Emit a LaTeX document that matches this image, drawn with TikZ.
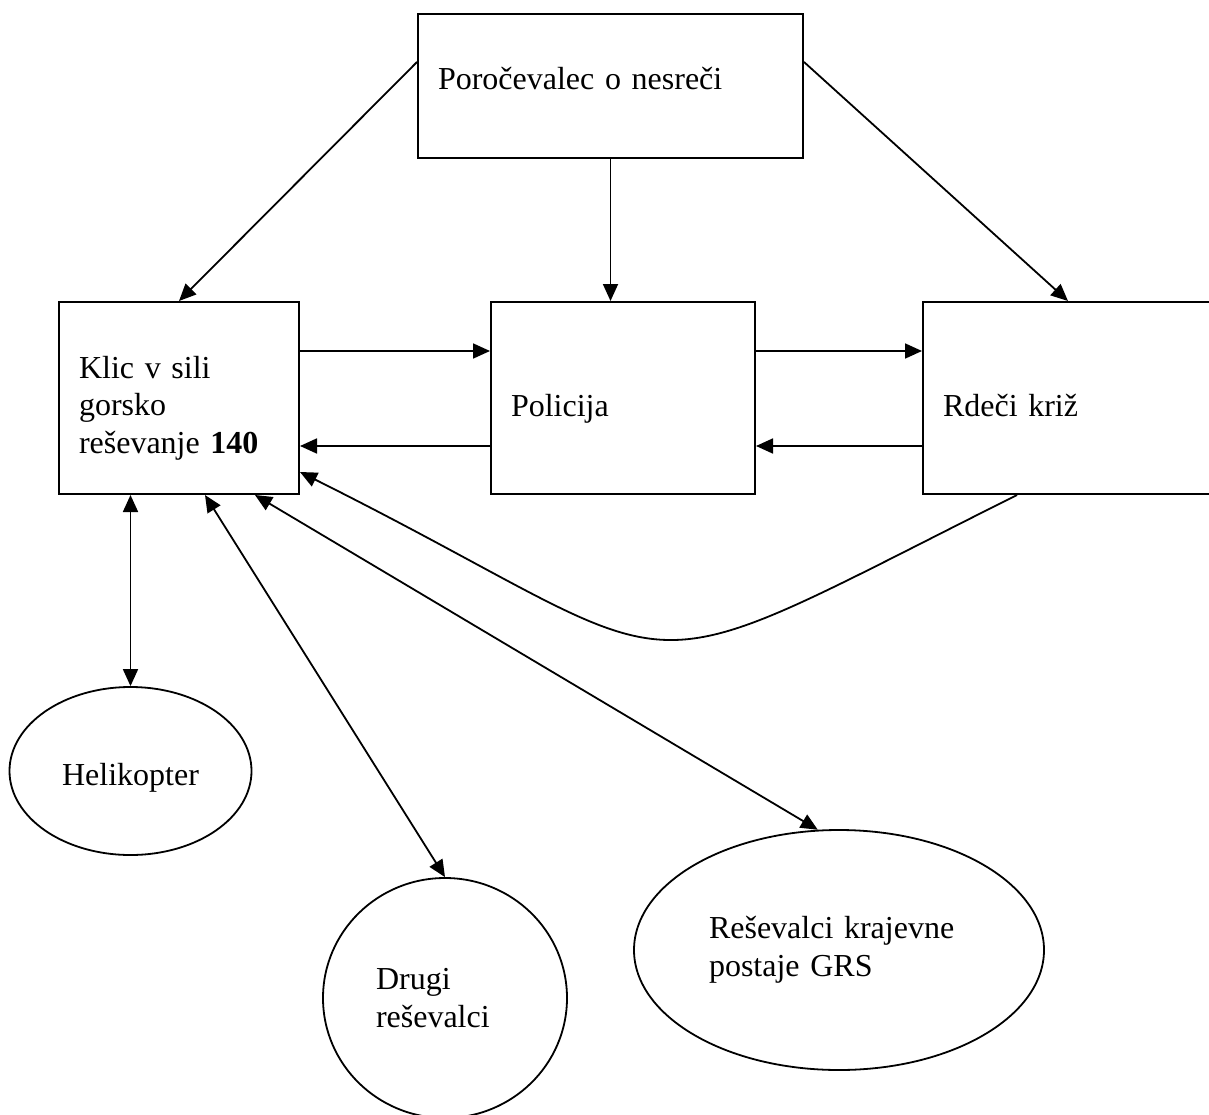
\documentclass[tikz,border=0pt]{standalone}
\usepackage{fontspec}
\setmainfont{Liberation Serif}
\usetikzlibrary{arrows.meta,positioning,shapes.geometric,calc}

\tikzset{
  box/.style={draw, line width=2pt, minimum height=192pt, inner xsep=20pt, inner ysep=0pt, align=left},
  oval/.style={draw, ellipse, line width=1.8pt, inner sep=0pt, align=left},
  arr/.style={-{Triangle[length=17pt,width=15pt]}, line width=1.8pt},
  dbl/.style={{Triangle[length=17pt,width=15pt]}-{Triangle[length=17pt,width=15pt]}, line width=1.8pt}
}

\begin{document}
\begin{tikzpicture}[x=1pt,y=-1pt,font=\fontsize{32}{37.5}\selectfont]
          \useasboundingbox (0,0) rectangle (1209,1115);
          \node[box, text width=345pt, minimum height=144pt, text height=24pt, text depth=16pt] (top) at (610.5,86) {Poročevalec o nesreči};
          \node[box, text width=200pt, text height=42pt, text depth=82pt] (klic) at (179,398) {Klic v sili\\gorsko\\reševanje \textbf{140}};
          \node[box, text width=224pt, text height=43pt, text depth=7pt] (pol) at (623,398) {Policija};
          \node[box, text width=250pt, text height=43pt, text depth=7pt] (rdeci) at (1068,398) {Rdeči križ};
          \node[oval, minimum width=242pt, minimum height=168pt, text height=35pt, text depth=7pt] (heli) at (130.5,771) {Helikopter};
          \node[oval, minimum width=244pt, minimum height=240pt, text width=138pt] (drugi) at (445,998) {Drugi\\reševalci};
          \node[oval, minimum width=410pt, minimum height=240pt, text width=260pt] (grs) at (839,950) {Reševalci krajevne\\postaje GRS};
          \draw[arr] ([yshift=24pt]top.west) -- (klic.north);
          \draw[arr] ([yshift=24pt]top.east) -- (rdeci.north);
          \draw[arr] (top.south) -- (top.south |- pol.north);
          \draw[arr] ([yshift=47pt]klic.east) -- ([yshift=47pt]pol.west);
          \draw[arr] ([yshift=-48pt]pol.west) -- ([yshift=-48pt]klic.east);
          \draw[arr] ([yshift=47pt]pol.east) -- ([yshift=47pt]rdeci.west);
          \draw[arr] ([yshift=-48pt]rdeci.west) -- ([yshift=-48pt]pol.east);
          \draw[arr] ([xshift=95pt]rdeci.south west) .. controls +(-414,207) and +(414,207) .. ([yshift=-74pt]klic.east);
          \draw[dbl] (heli.north |- klic.south) -- (heli.north);
          \draw[dbl] ([xshift=26pt]klic.south) -- (drugi.north);
          \draw[dbl] ([xshift=76pt]klic.south) -- (grs.100);
        \end{tikzpicture}
\end{document}
